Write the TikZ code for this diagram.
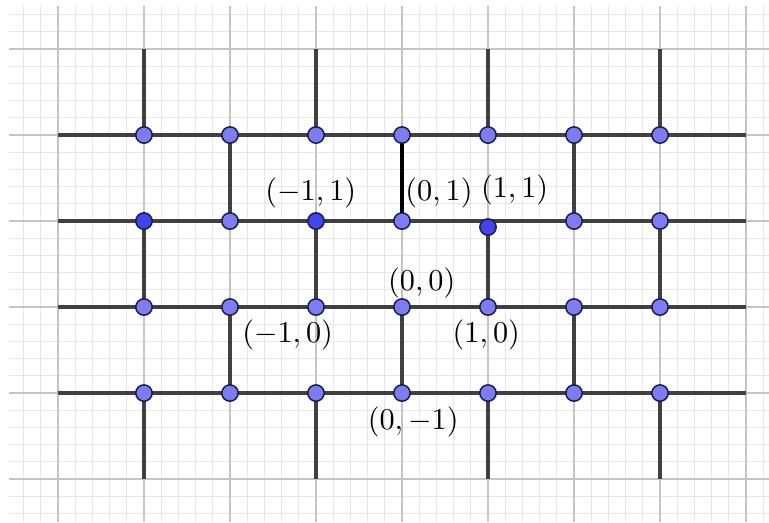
\documentclass[tikz,border=0pt]{standalone}
\usepackage{amsmath}
\usepackage{xcolor}
\definecolor{GridMinor}{HTML}{E6E6E6}
\definecolor{GridMajor}{HTML}{C4C4C4}
\definecolor{BondGray}{HTML}{404040}
\definecolor{SiteBlue}{HTML}{7C7CF3}
\definecolor{SiteDark}{HTML}{4444EE}
\definecolor{SiteRim}{HTML}{1C1C4C}
\usepackage{tikz}
\usetikzlibrary{positioning}

\begin{document}
\begin{tikzpicture}[x=1cm,y=1cm,
 bond/.style={BondGray,line width=1.1pt},
 marked/.style={black,line width=1.4pt},
 site/.style={circle,draw=SiteRim,fill=SiteBlue,line width=0.5pt,minimum size=1.9mm,inner sep=0pt},
 darksite/.style={site,fill=SiteDark}]
\fill[white] (-4.674,-2.5) rectangle (4.267,3.57);
\useasboundingbox (-4.674,-2.5) rectangle (4.267,3.57);
% grid
\draw[GridMinor,line width=0.3pt] (-4.57,-2.5) grid[step=0.2] (4.267,3.5);
\draw[GridMajor,line width=0.5pt] (-4.57,-2.5) grid[step=1] (4.267,3.5);
% lattice points
\foreach \i in {0,...,8} \foreach \j in {0,...,5}
  \coordinate (p\i\j) at (\i-4,\j-2);
% bonds
\foreach \j in {1,...,4} \draw[bond] (p0\j) -- (p8\j);
\foreach \i in {1,3,5,7} \foreach \j/\k in {0/1,2/3,4/5}
  \draw[bond] (p\i\j) -- (p\i\k);
\foreach \i in {2,4,6} \foreach \j/\k in {1/2,3/4}
  \draw[bond] (p\i\j) -- (p\i\k);
\draw[marked] (p43) -- (p44);
% sites
\foreach \i in {1,...,7} \foreach \j in {1,2,4}
  \node[site] (v\i\j) at (p\i\j) {};
\foreach \i in {2,4,6,7} \node[site] (v\i3) at (p\i3) {};
\node[darksite] (v13) at (p13) {};
\node[darksite] (v33) at (p33) {};
\node[darksite] (v53) at ([yshift=-0.07cm]p53) {};
% labels
\node at (-1.06,1.33) {$(-1,1)$};
\node at (0.43,1.33) {$(0,1)$};
\node at (1.31,1.36) {$(1,1)$};
\node at (0.23,0.28) {$(0,0)$};
\node at (-1.33,-0.33) {$(-1,0)$};
\node at (0.98,-0.33) {$(1,0)$};
\node at (0.13,-1.34) {$(0,-1)$};
\end{tikzpicture}
\end{document}
